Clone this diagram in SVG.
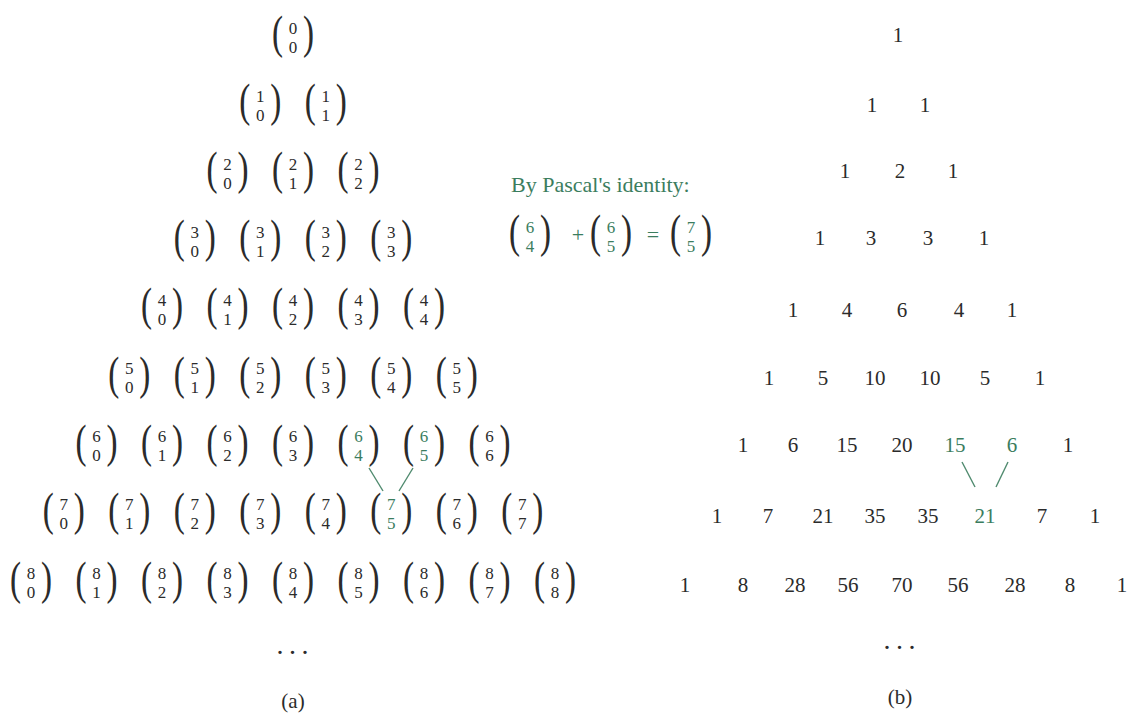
<svg xmlns="http://www.w3.org/2000/svg" width="1130" height="715" viewBox="0 0 1130 715">
<style>
text{font-family:"Liberation Serif","Times New Roman",serif;fill:#2b2b2b;text-anchor:middle}
.p{font-size:46px}
.d{font-size:17px}
.n{font-size:21px}
.g text{fill:#3b7d5e}
text.g{fill:#3b7d5e}
.cap{font-size:21px}
.op{font-size:22px}
.lbl{font-size:22px;text-anchor:start}
.dots{font-size:28px;text-anchor:start;letter-spacing:5.5px}
.conn line{stroke:#4f8a6e;stroke-width:1.4}
</style>
<defs>
<g id="lp"><text class="p" transform="translate(-15.5,11) scale(0.72,1)">(</text></g>
<g id="rp"><text class="p" transform="translate(15.5,11) scale(0.72,1)">)</text></g>
</defs>
<rect width="1130" height="715" fill="#fff"/>
<!-- (a) binomial triangle -->
<g id="b-0-0" transform="translate(293,37)"><use href="#lp"/><text class="d"><tspan x="0" y="-3.3">0</tspan><tspan x="0" y="15.6">0</tspan></text><use href="#rp"/></g>
<g id="b-1-0" transform="translate(260.25,105.1)"><use href="#lp"/><text class="d"><tspan x="0" y="-3.3">1</tspan><tspan x="0" y="15.6">0</tspan></text><use href="#rp"/></g>
<g id="b-1-1" transform="translate(325.75,105.1)"><use href="#lp"/><text class="d"><tspan x="0" y="-3.3">1</tspan><tspan x="0" y="15.6">1</tspan></text><use href="#rp"/></g>
<g id="b-2-0" transform="translate(227.5,173.2)"><use href="#lp"/><text class="d"><tspan x="0" y="-3.3">2</tspan><tspan x="0" y="15.6">0</tspan></text><use href="#rp"/></g>
<g id="b-2-1" transform="translate(293,173.2)"><use href="#lp"/><text class="d"><tspan x="0" y="-3.3">2</tspan><tspan x="0" y="15.6">1</tspan></text><use href="#rp"/></g>
<g id="b-2-2" transform="translate(358.5,173.2)"><use href="#lp"/><text class="d"><tspan x="0" y="-3.3">2</tspan><tspan x="0" y="15.6">2</tspan></text><use href="#rp"/></g>
<g id="b-3-0" transform="translate(194.75,241.3)"><use href="#lp"/><text class="d"><tspan x="0" y="-3.3">3</tspan><tspan x="0" y="15.6">0</tspan></text><use href="#rp"/></g>
<g id="b-3-1" transform="translate(260.25,241.3)"><use href="#lp"/><text class="d"><tspan x="0" y="-3.3">3</tspan><tspan x="0" y="15.6">1</tspan></text><use href="#rp"/></g>
<g id="b-3-2" transform="translate(325.75,241.3)"><use href="#lp"/><text class="d"><tspan x="0" y="-3.3">3</tspan><tspan x="0" y="15.6">2</tspan></text><use href="#rp"/></g>
<g id="b-3-3" transform="translate(391.25,241.3)"><use href="#lp"/><text class="d"><tspan x="0" y="-3.3">3</tspan><tspan x="0" y="15.6">3</tspan></text><use href="#rp"/></g>
<g id="b-4-0" transform="translate(162,309.4)"><use href="#lp"/><text class="d"><tspan x="0" y="-3.3">4</tspan><tspan x="0" y="15.6">0</tspan></text><use href="#rp"/></g>
<g id="b-4-1" transform="translate(227.5,309.4)"><use href="#lp"/><text class="d"><tspan x="0" y="-3.3">4</tspan><tspan x="0" y="15.6">1</tspan></text><use href="#rp"/></g>
<g id="b-4-2" transform="translate(293,309.4)"><use href="#lp"/><text class="d"><tspan x="0" y="-3.3">4</tspan><tspan x="0" y="15.6">2</tspan></text><use href="#rp"/></g>
<g id="b-4-3" transform="translate(358.5,309.4)"><use href="#lp"/><text class="d"><tspan x="0" y="-3.3">4</tspan><tspan x="0" y="15.6">3</tspan></text><use href="#rp"/></g>
<g id="b-4-4" transform="translate(424,309.4)"><use href="#lp"/><text class="d"><tspan x="0" y="-3.3">4</tspan><tspan x="0" y="15.6">4</tspan></text><use href="#rp"/></g>
<g id="b-5-0" transform="translate(129.25,377.5)"><use href="#lp"/><text class="d"><tspan x="0" y="-3.3">5</tspan><tspan x="0" y="15.6">0</tspan></text><use href="#rp"/></g>
<g id="b-5-1" transform="translate(194.75,377.5)"><use href="#lp"/><text class="d"><tspan x="0" y="-3.3">5</tspan><tspan x="0" y="15.6">1</tspan></text><use href="#rp"/></g>
<g id="b-5-2" transform="translate(260.25,377.5)"><use href="#lp"/><text class="d"><tspan x="0" y="-3.3">5</tspan><tspan x="0" y="15.6">2</tspan></text><use href="#rp"/></g>
<g id="b-5-3" transform="translate(325.75,377.5)"><use href="#lp"/><text class="d"><tspan x="0" y="-3.3">5</tspan><tspan x="0" y="15.6">3</tspan></text><use href="#rp"/></g>
<g id="b-5-4" transform="translate(391.25,377.5)"><use href="#lp"/><text class="d"><tspan x="0" y="-3.3">5</tspan><tspan x="0" y="15.6">4</tspan></text><use href="#rp"/></g>
<g id="b-5-5" transform="translate(456.75,377.5)"><use href="#lp"/><text class="d"><tspan x="0" y="-3.3">5</tspan><tspan x="0" y="15.6">5</tspan></text><use href="#rp"/></g>
<g id="b-6-0" transform="translate(96.5,445.6)"><use href="#lp"/><text class="d"><tspan x="0" y="-3.3">6</tspan><tspan x="0" y="15.6">0</tspan></text><use href="#rp"/></g>
<g id="b-6-1" transform="translate(162,445.6)"><use href="#lp"/><text class="d"><tspan x="0" y="-3.3">6</tspan><tspan x="0" y="15.6">1</tspan></text><use href="#rp"/></g>
<g id="b-6-2" transform="translate(227.5,445.6)"><use href="#lp"/><text class="d"><tspan x="0" y="-3.3">6</tspan><tspan x="0" y="15.6">2</tspan></text><use href="#rp"/></g>
<g id="b-6-3" transform="translate(293,445.6)"><use href="#lp"/><text class="d"><tspan x="0" y="-3.3">6</tspan><tspan x="0" y="15.6">3</tspan></text><use href="#rp"/></g>
<g id="b-6-4" class="g" transform="translate(358.5,445.6)"><use href="#lp"/><text class="d"><tspan x="0" y="-3.3">6</tspan><tspan x="0" y="15.6">4</tspan></text><use href="#rp"/></g>
<g id="b-6-5" class="g" transform="translate(424,445.6)"><use href="#lp"/><text class="d"><tspan x="0" y="-3.3">6</tspan><tspan x="0" y="15.6">5</tspan></text><use href="#rp"/></g>
<g id="b-6-6" transform="translate(489.5,445.6)"><use href="#lp"/><text class="d"><tspan x="0" y="-3.3">6</tspan><tspan x="0" y="15.6">6</tspan></text><use href="#rp"/></g>
<g id="b-7-0" transform="translate(63.75,513.7)"><use href="#lp"/><text class="d"><tspan x="0" y="-3.3">7</tspan><tspan x="0" y="15.6">0</tspan></text><use href="#rp"/></g>
<g id="b-7-1" transform="translate(129.25,513.7)"><use href="#lp"/><text class="d"><tspan x="0" y="-3.3">7</tspan><tspan x="0" y="15.6">1</tspan></text><use href="#rp"/></g>
<g id="b-7-2" transform="translate(194.75,513.7)"><use href="#lp"/><text class="d"><tspan x="0" y="-3.3">7</tspan><tspan x="0" y="15.6">2</tspan></text><use href="#rp"/></g>
<g id="b-7-3" transform="translate(260.25,513.7)"><use href="#lp"/><text class="d"><tspan x="0" y="-3.3">7</tspan><tspan x="0" y="15.6">3</tspan></text><use href="#rp"/></g>
<g id="b-7-4" transform="translate(325.75,513.7)"><use href="#lp"/><text class="d"><tspan x="0" y="-3.3">7</tspan><tspan x="0" y="15.6">4</tspan></text><use href="#rp"/></g>
<g id="b-7-5" class="g" transform="translate(391.25,513.7)"><use href="#lp"/><text class="d"><tspan x="0" y="-3.3">7</tspan><tspan x="0" y="15.6">5</tspan></text><use href="#rp"/></g>
<g id="b-7-6" transform="translate(456.75,513.7)"><use href="#lp"/><text class="d"><tspan x="0" y="-3.3">7</tspan><tspan x="0" y="15.6">6</tspan></text><use href="#rp"/></g>
<g id="b-7-7" transform="translate(522.25,513.7)"><use href="#lp"/><text class="d"><tspan x="0" y="-3.3">7</tspan><tspan x="0" y="15.6">7</tspan></text><use href="#rp"/></g>
<g id="b-8-0" transform="translate(31,582.5)"><use href="#lp"/><text class="d"><tspan x="0" y="-3.3">8</tspan><tspan x="0" y="15.6">0</tspan></text><use href="#rp"/></g>
<g id="b-8-1" transform="translate(96.5,582.5)"><use href="#lp"/><text class="d"><tspan x="0" y="-3.3">8</tspan><tspan x="0" y="15.6">1</tspan></text><use href="#rp"/></g>
<g id="b-8-2" transform="translate(162,582.5)"><use href="#lp"/><text class="d"><tspan x="0" y="-3.3">8</tspan><tspan x="0" y="15.6">2</tspan></text><use href="#rp"/></g>
<g id="b-8-3" transform="translate(227.5,582.5)"><use href="#lp"/><text class="d"><tspan x="0" y="-3.3">8</tspan><tspan x="0" y="15.6">3</tspan></text><use href="#rp"/></g>
<g id="b-8-4" transform="translate(293,582.5)"><use href="#lp"/><text class="d"><tspan x="0" y="-3.3">8</tspan><tspan x="0" y="15.6">4</tspan></text><use href="#rp"/></g>
<g id="b-8-5" transform="translate(358.5,582.5)"><use href="#lp"/><text class="d"><tspan x="0" y="-3.3">8</tspan><tspan x="0" y="15.6">5</tspan></text><use href="#rp"/></g>
<g id="b-8-6" transform="translate(424,582.5)"><use href="#lp"/><text class="d"><tspan x="0" y="-3.3">8</tspan><tspan x="0" y="15.6">6</tspan></text><use href="#rp"/></g>
<g id="b-8-7" transform="translate(489.5,582.5)"><use href="#lp"/><text class="d"><tspan x="0" y="-3.3">8</tspan><tspan x="0" y="15.6">7</tspan></text><use href="#rp"/></g>
<g id="b-8-8" transform="translate(555,582.5)"><use href="#lp"/><text class="d"><tspan x="0" y="-3.3">8</tspan><tspan x="0" y="15.6">8</tspan></text><use href="#rp"/></g>
<text class="dots" x="276.5" y="654">...</text>
<text class="cap" x="293" y="708">(a)</text>

<!-- Pascal's identity note -->
<g id="identity" class="g">
<text class="lbl" x="511" y="192">By Pascal's identity:</text>
<g transform="translate(530,236)"><use href="#lp"/><text class="d"><tspan x="0" y="-3.3">6</tspan><tspan x="0" y="15.6">4</tspan></text><use href="#rp"/></g>
<text class="op" x="578" y="242">+</text>
<g transform="translate(611,236)"><use href="#lp"/><text class="d"><tspan x="0" y="-3.3">6</tspan><tspan x="0" y="15.6">5</tspan></text><use href="#rp"/></g>
<text class="op" x="653" y="242">=</text>
<g transform="translate(691,236)"><use href="#lp"/><text class="d"><tspan x="0" y="-3.3">7</tspan><tspan x="0" y="15.6">5</tspan></text><use href="#rp"/></g>
</g>

<!-- (b) numeric triangle -->
<g id="r0"><text class="n" x="898" y="42">1</text></g>
<g id="r1"><text class="n" x="872" y="112">1</text><text class="n" x="925" y="112">1</text></g>
<g id="r2"><text class="n" x="845" y="178">1</text><text class="n" x="900" y="178">2</text><text class="n" x="953" y="178">1</text></g>
<g id="r3"><text class="n" x="820" y="245">1</text><text class="n" x="871" y="245">3</text><text class="n" x="928" y="245">3</text><text class="n" x="984" y="245">1</text></g>
<g id="r4"><text class="n" x="793" y="317">1</text><text class="n" x="847" y="317">4</text><text class="n" x="902" y="317">6</text><text class="n" x="959" y="317">4</text><text class="n" x="1012" y="317">1</text></g>
<g id="r5"><text class="n" x="769" y="385">1</text><text class="n" x="823" y="385">5</text><text class="n" x="875" y="385">10</text><text class="n" x="930" y="385">10</text><text class="n" x="985" y="385">5</text><text class="n" x="1040" y="385">1</text></g>
<g id="r6"><text class="n" x="743" y="452">1</text><text class="n" x="793" y="452">6</text><text class="n" x="847" y="452">15</text><text class="n" x="902" y="452">20</text><text class="n g" x="955" y="452">15</text><text class="n g" x="1012" y="452">6</text><text class="n" x="1068" y="452">1</text></g>
<g id="r7"><text class="n" x="717" y="523">1</text><text class="n" x="768" y="523">7</text><text class="n" x="823" y="523">21</text><text class="n" x="875" y="523">35</text><text class="n" x="928" y="523">35</text><text class="n g" x="985" y="523">21</text><text class="n" x="1042" y="523">7</text><text class="n" x="1095" y="523">1</text></g>
<g id="r8"><text class="n" x="685" y="592">1</text><text class="n" x="743" y="592">8</text><text class="n" x="795" y="592">28</text><text class="n" x="848" y="592">56</text><text class="n" x="902" y="592">70</text><text class="n" x="958" y="592">56</text><text class="n" x="1015" y="592">28</text><text class="n" x="1070" y="592">8</text><text class="n" x="1122" y="592">1</text></g>
<text class="dots" x="883.5" y="649">...</text>
<text class="cap" x="900" y="704">(b)</text>

<g id="connectors" class="conn">
<line x1="369" y1="468" x2="383" y2="491"/>
<line x1="413" y1="468" x2="399" y2="491"/>
<line x1="962" y1="462" x2="975" y2="487"/>
<line x1="1008" y1="462" x2="996" y2="487"/>
</g>
</svg>
